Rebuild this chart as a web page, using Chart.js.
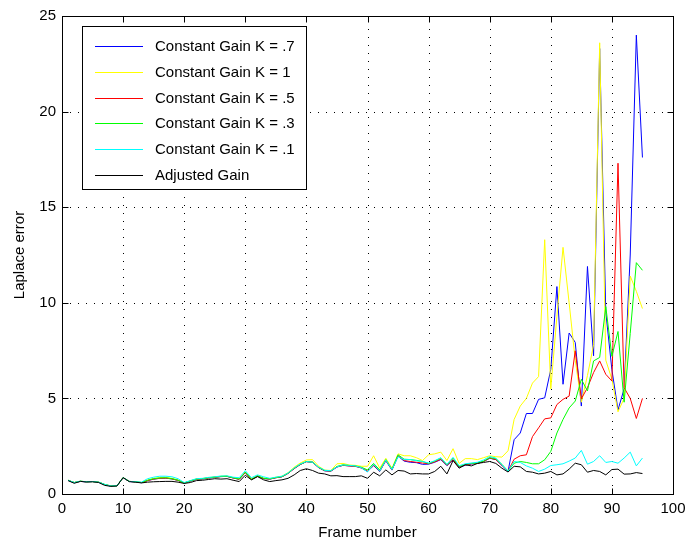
<!DOCTYPE html>
<html><head><meta charset="utf-8">
<script src="https://cdn.jsdelivr.net/npm/chart.js@4.4.0/dist/chart.umd.min.js"></script>
<style>html,body{margin:0;padding:0;background:#fff;}#wrap{width:693px;height:548px;}</style>
</head><body><div id="wrap"><canvas id="c" width="693" height="548"></canvas></div>
<script>
const frames = [1,2,3,4,5,6,7,8,9,10,11,12,13,14,15,16,17,18,19,20,21,22,23,24,25,26,27,28,29,30,31,32,33,34,35,36,37,38,39,40,41,42,43,44,45,46,47,48,49,50,51,52,53,54,55,56,57,58,59,60,61,62,63,64,65,66,67,68,69,70,71,72,73,74,75,76,77,78,79,80,81,82,83,84,85,86,87,88,89,90,91,92,93,94,95];

const seriesNames = ["Constant Gain K = .7","Constant Gain K = 1","Constant Gain K = .5","Constant Gain K = .3","Constant Gain K = .1","Adjusted Gain"];

const gainK07 = [0.71,0.59,0.66,0.63,0.65,0.61,0.49,0.41,0.43,0.85,
 0.65,0.63,0.59,0.70,0.78,0.82,0.83,0.79,0.71,0.57,
 0.67,0.77,0.79,0.84,0.87,0.91,0.92,0.84,0.77,1.12,
 0.76,0.93,0.81,0.78,0.85,0.90,1.08,1.33,1.54,1.69,
 1.66,1.38,1.21,1.19,1.41,1.50,1.47,1.45,1.36,1.18,
 1.48,1.18,1.74,1.25,1.98,1.72,1.66,1.64,1.55,1.56,
 1.66,1.80,1.48,1.78,1.40,1.50,1.57,1.60,1.70,1.87,
 1.80,1.50,1.18,2.84,3.19,4.21,4.21,4.95,5.03,6.52,10.85,5.74,8.42,7.93,4.60,11.90,7.23,23.30,9.50,6.50,4.40,5.50,12.50,24.00,17.60];

const gainK1 = [0.72,0.60,0.67,0.64,0.65,0.62,0.50,0.42,0.43,0.86,
 0.66,0.64,0.60,0.72,0.82,0.86,0.87,0.82,0.73,0.58,
 0.69,0.79,0.81,0.86,0.89,0.93,0.94,0.86,0.79,1.15,
 0.78,0.96,0.83,0.80,0.88,0.93,1.12,1.40,1.62,1.78,
 1.80,1.45,1.25,1.23,1.58,1.60,1.52,1.50,1.45,1.45,
 2.00,1.35,1.87,1.35,2.10,2.00,2.00,1.90,1.75,2.05,
 2.10,2.19,1.75,2.37,1.60,1.85,1.85,1.80,1.90,2.00,
 1.95,1.93,2.26,3.90,4.60,5.00,5.80,6.14,13.30,5.50,9.30,12.90,10.00,7.00,4.80,6.20,7.80,23.60,7.00,6.00,4.30,5.00,11.40,10.60,9.70];

const gainK05 = [0.71,0.60,0.66,0.64,0.65,0.62,0.49,0.42,0.43,0.85,
 0.66,0.63,0.60,0.70,0.78,0.82,0.83,0.79,0.71,0.58,
 0.68,0.77,0.80,0.84,0.88,0.91,0.92,0.84,0.77,1.12,
 0.76,0.93,0.81,0.78,0.85,0.90,1.08,1.33,1.55,1.69,
 1.66,1.38,1.22,1.20,1.42,1.50,1.47,1.45,1.37,1.20,
 1.50,1.20,1.76,1.27,2.00,1.75,1.70,1.66,1.62,1.58,
 1.68,1.82,1.50,1.80,1.42,1.52,1.58,1.60,1.70,1.88,
 1.80,1.50,1.20,1.82,2.00,2.05,3.00,3.46,3.93,3.98,4.68,4.95,5.12,7.49,4.98,5.56,6.35,6.96,6.26,5.91,17.30,5.56,5.00,3.95,5.00];

const gainK03 = [0.72,0.60,0.67,0.64,0.65,0.62,0.50,0.42,0.43,0.86,
 0.66,0.64,0.60,0.72,0.80,0.84,0.85,0.80,0.72,0.58,
 0.68,0.78,0.80,0.85,0.88,0.92,0.93,0.85,0.78,1.15,
 0.77,0.95,0.82,0.79,0.86,0.91,1.09,1.35,1.56,1.70,
 1.67,1.40,1.23,1.21,1.44,1.53,1.49,1.47,1.40,1.26,
 1.60,1.26,1.80,1.30,2.05,1.82,1.80,1.76,1.70,1.60,
 1.72,1.88,1.53,1.88,1.44,1.55,1.60,1.62,1.72,1.90,
 1.85,1.55,1.20,1.61,1.70,1.65,1.58,1.58,1.79,2.23,3.19,3.90,4.50,4.86,6.00,5.39,6.96,7.14,9.80,7.20,8.50,4.80,8.40,12.10,11.70];

const gainK01 = [0.72,0.60,0.67,0.64,0.65,0.62,0.50,0.42,0.43,0.86,
 0.66,0.64,0.62,0.80,0.88,0.93,0.93,0.90,0.80,0.60,
 0.70,0.80,0.82,0.87,0.90,0.94,0.95,0.88,0.85,1.22,
 0.85,1.00,0.90,0.82,0.88,0.93,1.10,1.36,1.57,1.70,
 1.66,1.40,1.24,1.22,1.42,1.52,1.50,1.47,1.38,1.15,
 1.55,1.20,1.78,1.28,1.95,1.80,1.80,1.74,1.70,1.62,
 1.74,1.90,1.55,1.92,1.48,1.58,1.62,1.66,1.78,1.96,
 1.88,1.53,1.18,1.70,1.65,1.47,1.35,1.18,1.30,1.49,1.53,1.58,1.72,1.88,2.28,1.56,1.70,2.00,1.65,1.70,1.61,1.88,2.19,1.47,1.88];

const adjustedGain = [0.70,0.56,0.66,0.63,0.64,0.60,0.45,0.40,0.42,0.86,
 0.65,0.62,0.58,0.62,0.64,0.65,0.66,0.66,0.62,0.55,
 0.60,0.70,0.72,0.76,0.80,0.78,0.80,0.72,0.65,0.98,
 0.74,0.91,0.74,0.65,0.70,0.74,0.82,1.00,1.23,1.32,
 1.23,1.09,1.05,0.95,0.96,0.91,0.91,0.91,0.95,0.82,
 1.14,0.95,1.26,1.00,1.23,1.20,1.05,1.07,1.05,1.05,
 1.18,1.45,1.05,1.75,1.35,1.53,1.47,1.60,1.65,1.70,
 1.60,1.35,1.15,1.45,1.42,1.18,1.14,1.05,1.09,1.18,1.00,1.05,1.30,1.61,1.53,1.14,1.23,1.18,1.00,1.28,1.30,1.04,1.05,1.12,1.07];

const xTickValues = [0,10,20,30,40,50,60,70,80,90,100];
const yTickValues = [0,5,10,15,20,25];

const seriesValues = [gainK07, gainK1, gainK05, gainK03, gainK01, adjustedGain];
const seriesColors = ['#0000ff','#ffff00','#ff0000','#00ff00','#00ffff','#000000'];

const FONT = '"Liberation Sans", Arial, Helvetica, sans-serif';

const datasets = seriesValues.map((vals, i) => ({
  label: seriesNames[i],
  data: frames.map((f, j) => ({x: f, y: vals[j]})),
  borderColor: seriesColors[i],
  backgroundColor: seriesColors[i],
  borderWidth: 1,
  pointRadius: 0,
  tension: 0,
  fill: false,
  order: seriesValues.length - 1 - i
}));

const matlabBox = {
  id: 'matlabBox',
  beforeDatasetsDraw(chart) {
    const {ctx, chartArea: a, scales: {x, y}} = chart;
    ctx.save();
    ctx.strokeStyle = '#000';
    ctx.lineWidth = 1;
    ctx.setLineDash([1, 7]);
    xTickValues.forEach(v => {
      if (v === xTickValues[0] || v === xTickValues[xTickValues.length - 1]) return;
      const px = Math.round(x.getPixelForValue(v)) + 0.5;
      ctx.beginPath(); ctx.moveTo(px, a.bottom); ctx.lineTo(px, a.top); ctx.stroke();
    });
    yTickValues.forEach(v => {
      if (v === yTickValues[0] || v === yTickValues[yTickValues.length - 1]) return;
      const py = Math.round(y.getPixelForValue(v)) + 0.5;
      ctx.beginPath(); ctx.moveTo(a.left, py); ctx.lineTo(a.right, py); ctx.stroke();
    });
    ctx.restore();
  },
  afterDatasetsDraw(chart) {
    const {ctx, chartArea: a, scales: {x, y}} = chart;
    ctx.save();
    ctx.strokeStyle = '#000';
    ctx.lineWidth = 1;
    ctx.setLineDash([]);
    const L = Math.round(a.left) + 0.5, R = Math.round(a.right) + 0.5;
    const T = Math.round(a.top) + 0.5, B = Math.round(a.bottom) + 0.5;
    ctx.strokeRect(L, T, R - L, B - T);
    const tl = 6;
    xTickValues.forEach(v => {
      const px = Math.round(x.getPixelForValue(v)) + 0.5;
      ctx.beginPath(); ctx.moveTo(px, B); ctx.lineTo(px, B - tl); ctx.stroke();
      ctx.beginPath(); ctx.moveTo(px, T); ctx.lineTo(px, T + tl); ctx.stroke();
    });
    yTickValues.forEach(v => {
      const py = Math.round(y.getPixelForValue(v)) + 0.5;
      ctx.beginPath(); ctx.moveTo(L, py); ctx.lineTo(L + tl, py); ctx.stroke();
      ctx.beginPath(); ctx.moveTo(R, py); ctx.lineTo(R - tl, py); ctx.stroke();
    });
    // legend
    const lx = 82.5, ly = 26.5, lw = 224, lh = 163;
    ctx.fillStyle = '#fff';
    ctx.fillRect(lx, ly, lw, lh);
    ctx.strokeRect(lx, ly, lw, lh);
    ctx.font = '15px ' + FONT;
    ctx.textBaseline = 'middle';
    ctx.textAlign = 'left';
    seriesNames.forEach((name, i) => {
      const cy = Math.round(46 + i * 25.8) + 0.5;
      ctx.strokeStyle = seriesColors[i];
      ctx.beginPath(); ctx.moveTo(95, cy); ctx.lineTo(143, cy); ctx.stroke();
      ctx.fillStyle = '#000';
      ctx.fillText(name, 155, cy);
    });
    ctx.restore();
  }
};

new Chart(document.getElementById('c'), {
  type: 'line',
  data: { datasets },
  plugins: [matlabBox],
  options: {
    responsive: false,
    devicePixelRatio: 1,
    animation: false,
    layout: { padding: { left: 0, top: 16, right: 20, bottom: 0 } },
    plugins: { legend: { display: false }, tooltip: { enabled: false } },
    scales: {
      x: {
        type: 'linear', min: 0, max: 100,
        afterBuildTicks: s => { s.ticks = xTickValues.map(v => ({value: v})); },
        afterFit: s => { s.height = 54; },
        grid: { display: false, drawTicks: false },
        border: { display: false },
        ticks: { color: '#000', font: { family: FONT, size: 15 }, padding: 6, maxRotation: 0, autoSkip: false },
        title: { display: true, text: 'Frame number', color: '#000', font: { family: FONT, size: 15 }, padding: { top: 0, bottom: 6 } }
      },
      y: {
        type: 'linear', min: 0, max: 25,
        afterBuildTicks: s => { s.ticks = yTickValues.map(v => ({value: v})); },
        afterFit: s => { s.width = 62; },
        grid: { display: false, drawTicks: false },
        border: { display: false },
        ticks: { color: '#000', font: { family: FONT, size: 15 }, padding: 6, autoSkip: false },
        title: { display: true, text: 'Laplace error', color: '#000', font: { family: FONT, size: 15 }, padding: { top: 11, bottom: 0 } }
      }
    }
  }
});
</script></body></html>
